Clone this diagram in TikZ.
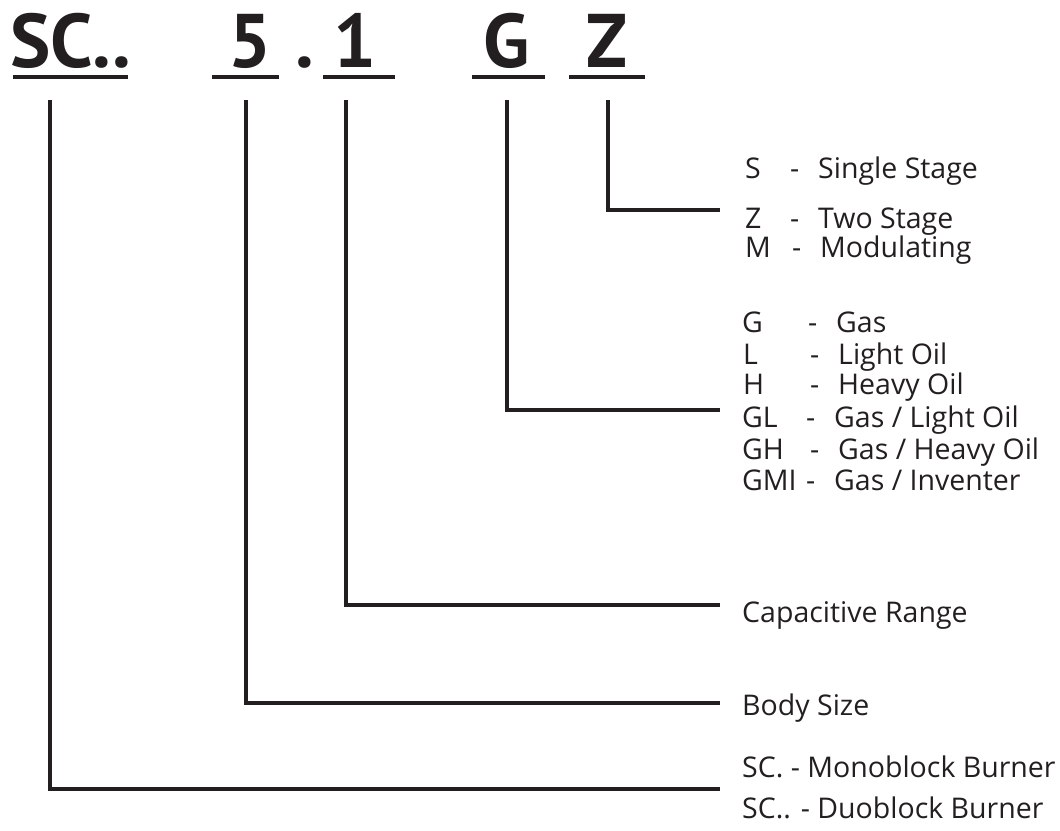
\documentclass[tikz,border=0pt]{standalone}
\usepackage{fontspec}
\setmainfont{PT Sans}
\newfontfamily\lblfont{Open Sans}
\definecolor{ink}{HTML}{231F20}
\begin{document}
\begin{tikzpicture}[x=1pt,y=-1pt,
  conn/.style={draw=ink,line width=4.6pt,line cap=butt,line join=miter},
  uline/.style={draw=ink,line width=4.6pt},
  head/.style={anchor=base,inner sep=0pt,text=ink,font=\fontsize{76}{76}\selectfont\bfseries},
  lbl/.style={anchor=base west,inner sep=0pt,text=ink,font=\lblfont\fontsize{28.5}{30}\selectfont}]
\useasboundingbox (0,0) rectangle (1060,830);
% header
\node[head,anchor=base west] (hSC) at (10,67) {SC..};
\node[head] (h5) at (250,67) {5};
\node[head] (hdot) at (305,67) {.};
\node[head] (h1) at (355,67) {1};
\node[head] (hG) at (507,67) {G};
\node[head] (hZ) at (607,67) {Z};
\draw[uline] (13,77) -- (128,77);
\draw[uline] (212,77) -- (279,77);
\draw[uline] (323,77) -- (395,77);
\draw[uline] (472,77) -- (545,77);
\draw[uline] (569,77) -- (645,77);
% connector coordinates
\coordinate (tSC) at (50,100);
\coordinate (t5) at (246,100);
\coordinate (t1) at (346,100);
\coordinate (tG) at (507,100);
\coordinate (tZ) at (608,100);
\coordinate (eSC) at (720,789);
\coordinate (e5) at (720,703);
\coordinate (e1) at (720,605);
\coordinate (eG) at (720,410);
\coordinate (eZ) at (720,210);
\draw[conn] (tZ) |- (eZ);
\draw[conn] (tG) |- (eG);
\draw[conn] (t1) |- (e1);
\draw[conn] (t5) |- (e5);
\draw[conn] (tSC) |- (eSC);
% Z group
\node[lbl] (cS) at (745,178) {S};
\node[lbl] (dS) at (790,178) {-};
\node[lbl] (nS) at (818,178) {Single Stage};
\node[lbl] (cZ) at (745,228) {Z};
\node[lbl] (dZ) at (790,228) {-};
\node[lbl] (nZ) at (818,228) {Two Stage};
\node[lbl] (cM) at (745,257) {M};
\node[lbl] (dM) at (792,257) {-};
\node[lbl] (nM) at (820,257) {Modulating};
% G group
\node[lbl] (cG) at (742,332) {G};
\node[lbl] (dG) at (808,332) {-};
\node[lbl] (nG) at (836,332) {Gas};
\node[lbl] (cL) at (743,364) {L};
\node[lbl] (dL) at (810,364) {-};
\node[lbl] (nL) at (838,364) {Light Oil};
\node[lbl] (cH) at (743,394) {H};
\node[lbl] (dH) at (810,394) {-};
\node[lbl] (nH) at (838,394) {Heavy Oil};
\node[lbl] (cGL) at (742,427) {GL};
\node[lbl] (dGL) at (806,427) {-};
\node[lbl] (nGL) at (834,427) {Gas / Light Oil};
\node[lbl] (cGH) at (742,459) {GH};
\node[lbl] (dGH) at (810,459) {-};
\node[lbl] (nGH) at (838,459) {Gas / Heavy Oil};
\node[lbl] (cGMI) at (742,490) {GMI};
\node[lbl] (dGMI) at (806,490) {-};
\node[lbl] (nGMI) at (834,490) {Gas / Inventer};
% others
\node[lbl] (cap) at (742,622) {Capacitive Range};
\node[lbl] (body) at (742,715) {Body Size};
\node[lbl] (mono) at (742,777) {SC. - Monoblock Burner};
\node[lbl] (duo) at (742,818) {SC.. - Duoblock Burner};
\end{tikzpicture}
\end{document}
